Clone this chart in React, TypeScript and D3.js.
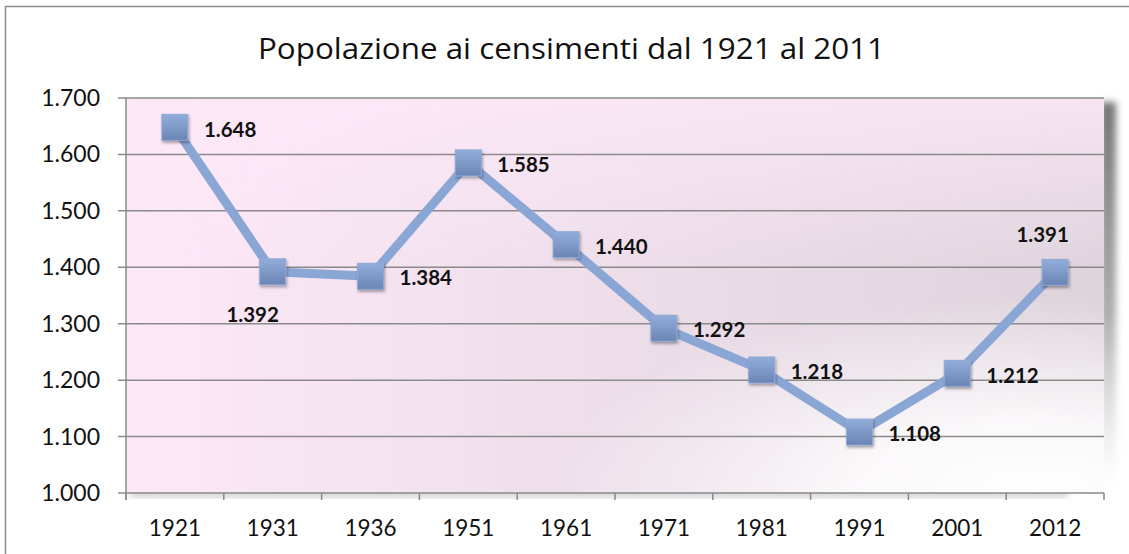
import React from 'react';
import * as d3 from 'd3';

const years = ['1921', '1931', '1936', '1951', '1961', '1971', '1981', '1991', '2001', '2012'];
const population = [1648, 1392, 1384, 1585, 1440, 1292, 1218, 1108, 1212, 1391];
const labelPlacement = ['right', 'below', 'right', 'right', 'right', 'right', 'right', 'right', 'right', 'above'];
const yTicks = [1000, 1100, 1200, 1300, 1400, 1500, 1600, 1700];
const title = 'Popolazione ai censimenti dal 1921 al 2011';

const W = 1129;
const H = 554;
const left = 126;
const right = 1104;
const top = 98;
const bottom = 493;
const font = 'Lato, "Open Sans", sans-serif';

const fmtVal = (v: number) => (v / 1000).toFixed(3);

export default function App() {
  const x = d3.scaleBand().domain(years).range([left, right]);
  const y = d3.scaleLinear().domain([1000, 1700]).range([bottom, top]);
  const cx = (d: string) => (x(d) ?? 0) + x.bandwidth() / 2;

  const path = d3.line<number>()
    .x((_, i) => cx(years[i]))
    .y(v => y(v))(population) ?? '';

  const boundaries = years.map(d => x(d) ?? 0).concat([right]);

  return (
    <svg width={W} height={H} style={{ position: 'absolute', left: 0, top: 0 }}>
      <defs>
        <linearGradient id="bg" x1="0" x2="1" y1="0" y2="0">
          <stop offset="0" stopColor="#fde8f8" />
          <stop offset="0.45" stopColor="#eedfeb" />
          <stop offset="1" stopColor="#ddd3db" />
        </linearGradient>
        <radialGradient id="glow" cx="0.93" cy="1" r="0.5">
          <stop offset="0" stopColor="#ffffff" stopOpacity="1" />
          <stop offset="0.35" stopColor="#ffffff" stopOpacity="0.85" />
          <stop offset="1" stopColor="#ffffff" stopOpacity="0" />
        </radialGradient>
        <linearGradient id="topfade" x1="0" x2="0" y1="0" y2="1">
          <stop offset="0" stopColor="#fde8f8" stopOpacity="0.8" />
          <stop offset="0.45" stopColor="#fde8f8" stopOpacity="0" />
        </linearGradient>
        <linearGradient id="shade" x1="0" x2="0" y1="0" y2="1">
          <stop offset="0" stopColor="#6e6e6e" stopOpacity="0.95" />
          <stop offset="0.55" stopColor="#8a8a8a" stopOpacity="0.7" />
          <stop offset="1" stopColor="#bbbbbb" stopOpacity="0" />
        </linearGradient>
        <linearGradient id="mk" x1="0" x2="0" y1="0" y2="1">
          <stop offset="0" stopColor="#93addb" />
          <stop offset="1" stopColor="#6a84b4" />
        </linearGradient>
        <filter id="shadow" x="-50%" y="-20%" width="200%" height="140%">
          <feGaussianBlur stdDeviation="3.5" />
        </filter>
        <filter id="mshadow" x="-50%" y="-50%" width="200%" height="200%">
          <feGaussianBlur in="SourceAlpha" stdDeviation="1.5" />
          <feOffset dx="1" dy="2" result="b" />
          <feComponentTransfer><feFuncA type="linear" slope="0.35" /></feComponentTransfer>
          <feMerge><feMergeNode /><feMergeNode in="SourceGraphic" /></feMerge>
        </filter>
      </defs>

      <rect x={0} y={0} width={W} height={H} fill="#fff" />
      <rect x={5.5} y={6.5} width={W + 10} height={H + 10} fill="#fff" stroke="#8c8c8c" strokeWidth={1.5} />

      <text x={258} y={59} textLength={627} lengthAdjust="spacingAndGlyphs" fontFamily='"Open Sans", sans-serif' fontSize={29.5} fill="#111">{title}</text>

      {/* plot area shadow */}
      <rect x={right - 4} y={top + 4} width={16} height={bottom - top - 10} fill="url(#shade)" filter="url(#shadow)" />
      <rect x={left + 4} y={bottom - 3} width={right - left - 40} height={7} fill="#aaa" filter="url(#shadow)" opacity={0.6} />
      <rect x={left} y={top} width={right - left} height={bottom - top} fill="url(#bg)" />
      <rect x={left} y={top} width={right - left} height={bottom - top} fill="url(#topfade)" />
      <rect x={left} y={top} width={right - left} height={bottom - top} fill="url(#glow)" />

      {yTicks.map(t => (
        <g key={t}>
          <line x1={left - 8} x2={right} y1={y(t)} y2={y(t)} stroke="#8a8a8a" strokeWidth={1.5} />
          <text x={100} y={y(t)} dy="0.35em" textAnchor="end" fontFamily={font} fontSize={23} fill="#111">{fmtVal(t)}</text>
        </g>
      ))}
      <line x1={left} x2={left} y1={top} y2={bottom + 7} stroke="#8a8a8a" strokeWidth={1.5} />
      {boundaries.map((b, i) => (
        <line key={i} x1={b} x2={b} y1={bottom} y2={bottom + 7} stroke="#8a8a8a" strokeWidth={1.5} />
      ))}
      {years.map(d => (
        <text key={d} x={cx(d)} y={536} textAnchor="middle" fontFamily={font} fontSize={22.5} fill="#111">{d}</text>
      ))}

      <path d={path} fill="none" stroke="#8aa6d4" strokeWidth={9} strokeLinejoin="round" />

      {population.map((v, i) => (
        <rect key={i} x={cx(years[i]) - 13} y={y(v) - 13} width={26} height={26} fill="url(#mk)" stroke="#8fa9d6" strokeWidth={1} filter="url(#mshadow)" />
      ))}

      {population.map((v, i) => {
        const px = cx(years[i]);
        const py = y(v);
        const p = labelPlacement[i];
        let lx = px + 29;
        let ly = py + 2;
        let anchor = 'start';
        if (p === 'below') { lx = px - 20; ly = py + 43; anchor = 'middle'; }
        if (p === 'above') { lx = px - 12.5; ly = py - 38; anchor = 'middle'; }
        return (
          <text key={i} x={lx} y={ly} dy="0.35em" textAnchor={anchor} fontFamily={font} fontWeight="bold" fontSize={20.5} fill="#111">{fmtVal(v)}</text>
        );
      })}
    </svg>
  );
}
